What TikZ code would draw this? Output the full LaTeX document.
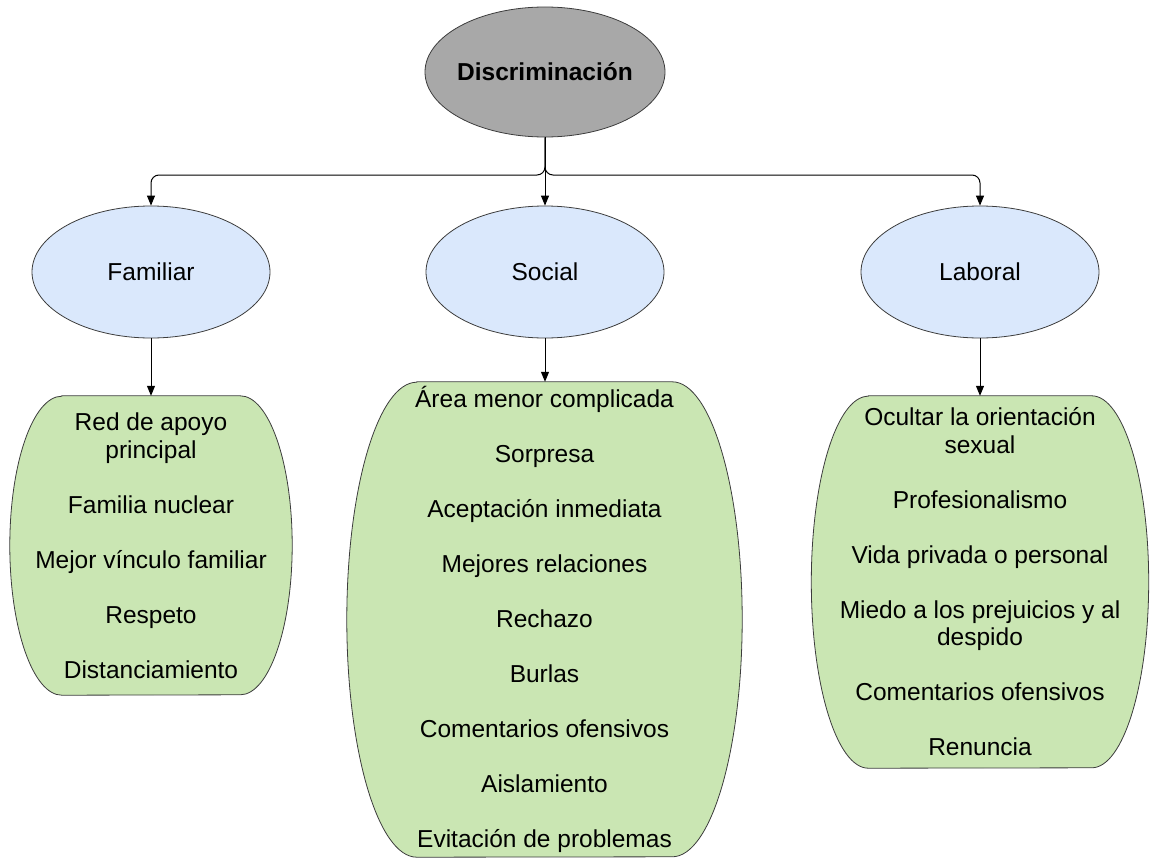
\documentclass[tikz,border=0pt]{standalone}
\usepackage{fontspec}
\setmainfont{Liberation Sans}
\usetikzlibrary{shapes.geometric,arrows.meta,calc,backgrounds}
\definecolor{rootfill}{HTML}{A8A8A8}
\definecolor{catfill}{HTML}{DAE8FC}
\definecolor{listfill}{HTML}{CAE6B3}
\definecolor{outline}{HTML}{3C3C3C}

% barrel outline: flat top and bottom, half-elliptic sides
% #1 node name, #2 side radius, #3 half height
\newcommand\drawbarrel[3]{%
  \draw[barrel] ($(#1.north west)+(#2,0)$) -- ($(#1.north east)+(-#2,0)$)
    arc[start angle=-90,end angle=90,x radius=#2,y radius=#3]
    -- ($(#1.south west)+(#2,0)$)
    arc[start angle=90,end angle=270,x radius=#2,y radius=#3] -- cycle;}

\begin{document}
\begin{tikzpicture}[x=1pt,y=-1pt,
  txt/.style={font=\fontsize{24.5}{27.5}\selectfont},
  root/.style={ellipse, draw=outline, fill=rootfill, line width=0.8pt,
    minimum width=240, minimum height=130, inner xsep=-10pt, inner ysep=0pt,
    font=\fontsize{24.5}{27.5}\selectfont\bfseries},
  cat/.style={txt, ellipse, draw=outline, fill=catfill, line width=0.8pt,
    minimum width=238, minimum height=132, inner sep=0pt},
  list/.style={txt, inner sep=0pt, align=center},
  barrel/.style={draw=outline, fill=listfill, line width=0.8pt},
  link/.style={line width=1pt, -{Triangle[length=10pt,width=8pt]}, rounded corners=8pt},
]
\useasboundingbox (0,0) rectangle (1157,859);

% root and categories
\node[root] (root) at (545,72) {Discriminación};
\node[cat] (fam) at (151,272) {Familiar};
\node[cat] (soc) at (545,272) {Social};
\node[cat] (lab) at (980,272) {Laboral};

% item lists
\node[list, minimum width=282, minimum height=299] (famlist) at (151,545.5)
  {Red de apoyo\\principal\\[27.5pt]Familia nuclear\\[27.5pt]Mejor vínculo familiar\\[27.5pt]Respeto\\[27.5pt]Distanciamiento};
\node[list, minimum width=395, minimum height=475] (soclist) at (544.5,619.5)
  {Área menor complicada\\[27.5pt]Sorpresa\\[27.5pt]Aceptación inmediata\\[27.5pt]Mejores relaciones\\[27.5pt]Rechazo\\[27.5pt]Burlas\\[27.5pt]Comentarios ofensivos\\[27.5pt]Aislamiento\\[27.5pt]Evitación de problemas};
\node[list, minimum width=337, minimum height=372] (lablist) at (980,582)
  {Ocultar la orientación\\sexual\\[27.5pt]Profesionalismo\\[27.5pt]Vida privada o personal\\[27.5pt]Miedo a los prejuicios y al\\despido\\[27.5pt]Comentarios ofensivos\\[27.5pt]Renuncia};

\begin{scope}[on background layer]
  \drawbarrel{famlist}{52}{149.5}
  \drawbarrel{soclist}{70}{237.5}
  \begin{scope}[xshift=-3.5pt]
    \drawbarrel{lablist}{57}{186}
  \end{scope}
\end{scope}

% connectors
\coordinate (split) at (545,175);
\draw[link] (root.south) -- (split) -| (fam.north);
\draw[link] (root.south) -- (soc.north);
\draw[link] (root.south) -- (split) -| (lab.north);
\draw[link] (fam.south) -- (fam.south |- famlist.north);
\draw[link] (soc.south) -- (soc.south |- soclist.north);
\draw[link] (lab.south) -- (lab.south |- lablist.north);
\end{tikzpicture}
\end{document}
